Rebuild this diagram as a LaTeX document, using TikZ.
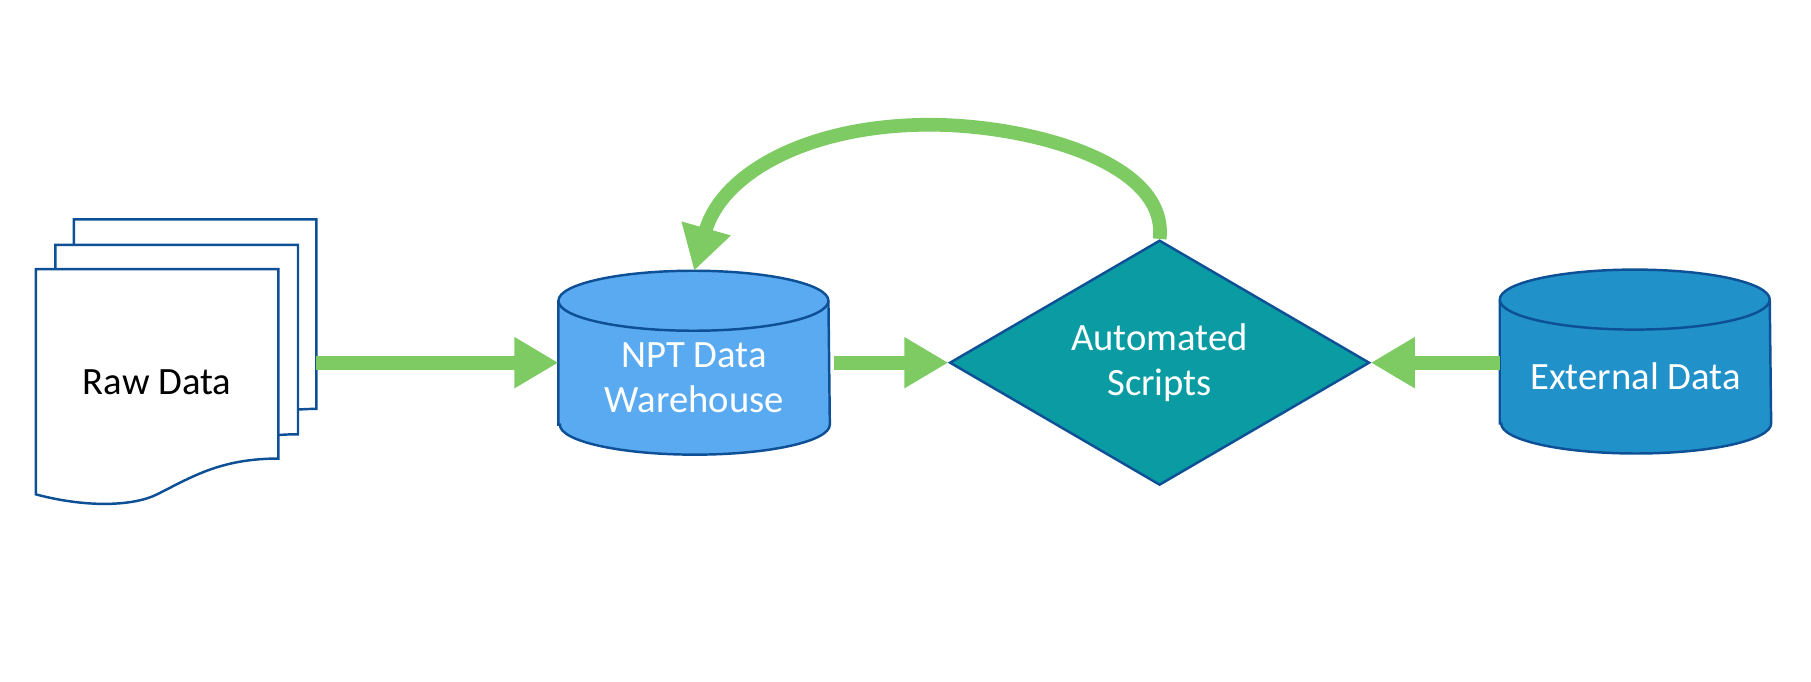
\documentclass[tikz,border=0pt]{standalone}
\usepackage{fontspec}
\setmainfont{Carlito}
\usetikzlibrary{shapes.geometric,arrows.meta,backgrounds}
\definecolor{pageblue}{RGB}{14,80,150}
\definecolor{flowgreen}{RGB}{125,203,98}
\definecolor{nptblue}{RGB}{90,170,242}
\definecolor{scriptteal}{RGB}{10,155,163}
\definecolor{extblue}{RGB}{33,145,201}
\newcommand{\storedraw}[2]{%
	\draw[pageblue,line width=0.7pt,fill=#2] ([yshift=0.3cm]#1.south west) -- (#1.north west)
		arc[start angle=180,end angle=0,x radius=1.35cm,y radius=0.3cm]
		-- ([yshift=0.3cm]#1.south east)
		arc[start angle=0,end angle=-180,x radius=1.35cm,y radius=0.3cm] -- cycle;
	\draw[pageblue,line width=0.7pt] (#1.north west)
		arc[start angle=180,end angle=360,x radius=1.35cm,y radius=0.3cm];}
\tikzset{
	rawpage/.pic={\draw[pageblue,fill=white,line width=0.7pt] (0,0) -- (210,0) -- (210,164) .. controls (160,164) and (135,180) .. (105,195) .. controls (85,205) and (45,207) .. (0,195) -- cycle;},
	store/.style={rectangle,minimum width=2.7cm,minimum height=1.525cm,inner sep=0pt,
		text=white,align=center},
	flow/.style={draw=flowgreen,line width=3.9pt,-{Triangle[length=0.44cm,width=0.48cm]}}
}
\begin{document}
\begin{tikzpicture}[x=0.01155cm,y=-0.01155cm,font=\fontsize{11}{13}\selectfont]
		\useasboundingbox (0,0) rectangle (1568,590);
		\pic at (64,190) {rawpage};
		\pic at (48,212) {rawpage};
		\pic at (31,233) {rawpage};
		\node (raw) at (136,331) {Raw Data};
		\coordinate (rawout) at (274,314);
		
		\node[diamond,aspect=1.72,draw=pageblue,line width=0.7pt,fill=scriptteal,
			minimum width=4.2cm,minimum height=2.45cm,inner sep=0pt,text=white,align=center]
			(scripts) at (1004,314) {Automated\\Scripts};
		\node[store] (npt) at (601,327) {NPT Data\\Warehouse};
		\node[store] (ext) at (1416,326) {External Data};
		\begin{scope}[on background layer]
			\storedraw{npt}{nptblue}
			\storedraw{ext}{extblue}
		\end{scope}
		
		\path[flow] (rawout) -- (npt.west |- rawout);
		\path[flow,shorten <=1.3pt] (npt.east |- scripts.west) -- (scripts.west);
		\path[flow] (ext.west |- scripts.east) -- (scripts.east);
		\path[flow] (scripts.north) .. controls (1012,140) and (890,108) .. (805,108)
			.. controls (700,108) and (625,150) .. ([yshift=0.3cm]npt.north);
\end{tikzpicture}
\end{document}
